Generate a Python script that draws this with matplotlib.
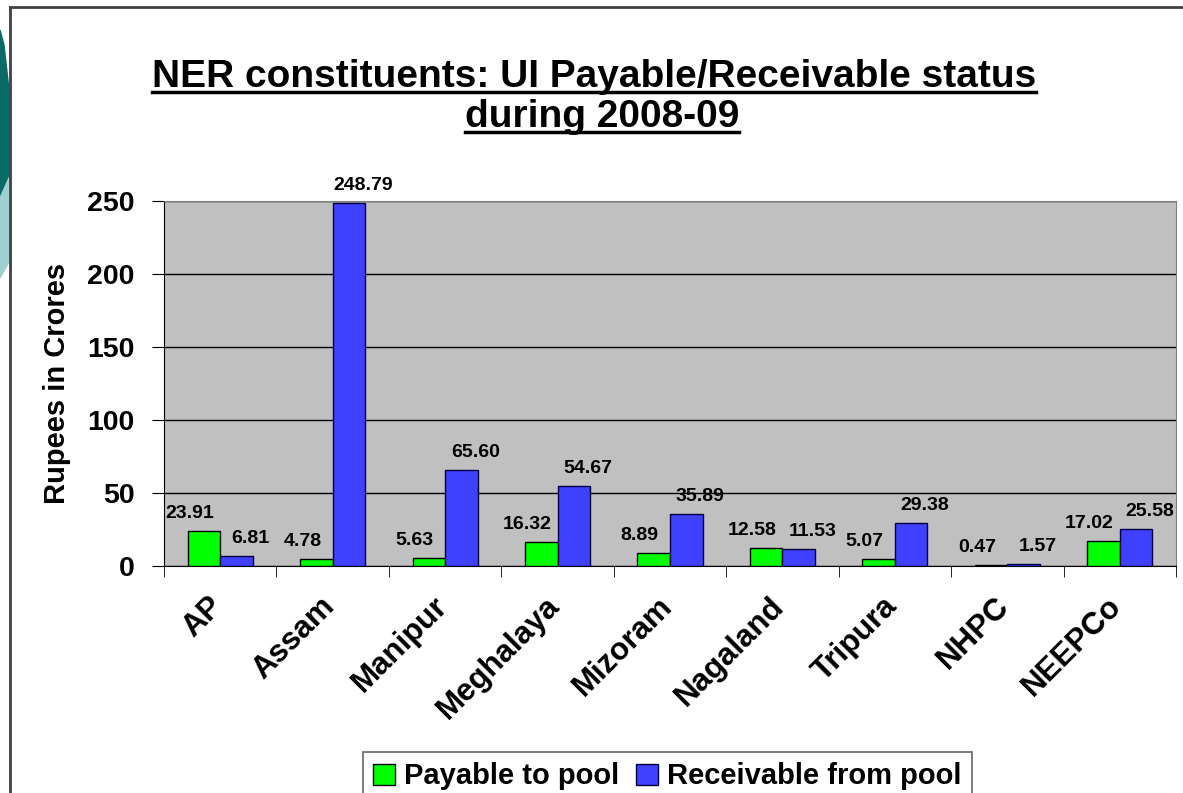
import numpy as np
import matplotlib
matplotlib.use("Agg")
import matplotlib.pyplot as plt
from matplotlib.lines import Line2D
from matplotlib.patches import Polygon
from matplotlib.transforms import ScaledTranslation

plt.rcParams['font.family'] = ['Liberation Sans', 'DejaVu Sans']
plt.rcParams['font.weight'] = 'bold'

# data
categories = ['AP', 'Assam', 'Manipur', 'Meghalaya', 'Mizoram',
              'Nagaland', 'Tripura', 'NHPC', 'NEEPCo']
payable = [23.91, 4.78, 5.63, 16.32, 8.89, 12.58, 5.07, 0.47, 17.02]
receivable = [6.81, 248.79, 65.60, 54.67, 35.89, 11.53, 29.38, 1.57, 25.58]
series_names = ['Payable to pool', 'Receivable from pool']
yticks = [0, 50, 100, 150, 200, 250]

W, H = 1183, 793
fig = plt.figure(figsize=(W / 100, H / 100), dpi=100)
fig.patch.set_facecolor('white')

# slide decoration on the left edge
dark = Polygon([(0, 1 - 30 / H), (4 / W, 1 - 45 / H), (9 / W, 1 - 90 / H),
                (9 / W, 1 - 175 / H), (0, 1 - 198 / H)],
               closed=True, transform=fig.transFigure, color='#0b6a66', zorder=0)
light = Polygon([(0, 1 - 198 / H), (9 / W, 1 - 178 / H), (9 / W, 1 - 262 / H),
                 (0, 1 - 278 / H)],
                closed=True, transform=fig.transFigure, color='#9fd0cf', zorder=0)
fig.patches.extend([dark, light])

# slide frame
fig.add_artist(Line2D([10 / W, 10 / W], [0, 1 - 7 / H], transform=fig.transFigure,
                      color='#404040', lw=2))
fig.add_artist(Line2D([10 / W, 1], [1 - 7 / H, 1 - 7 / H], transform=fig.transFigure,
                      color='#404040', lw=2))

ax = fig.add_axes([164 / W, 1 - 566 / H, (1176 - 164) / W, (566 - 201) / H])
ax.set_facecolor('#c0c0c0')

x = np.arange(len(categories))
w = 0.29
b1 = ax.bar(x - w / 2, payable, w, color='#00ff00', edgecolor='black', lw=1,
            label=series_names[0], zorder=3)
b2 = ax.bar(x + w / 2, receivable, w, color='#4040ff', edgecolor='#000040', lw=1,
            label=series_names[1], zorder=3)

for xi, v in zip(x, payable):
    ax.annotate(f'{v:.2f}', (xi - w / 2, v), xytext=(-14, 9),
                textcoords='offset pixels', ha='center', va='bottom',
                fontsize=14, fontweight='bold', zorder=4)
for xi, v in zip(x, receivable):
    ax.annotate(f'{v:.2f}', (xi + w / 2, v), xytext=(14, 9),
                textcoords='offset pixels', ha='center', va='bottom',
                fontsize=14, fontweight='bold', zorder=4, annotation_clip=False)

ax.set_xlim(-0.5, len(categories) - 0.5)
ax.set_ylim(0, 250)
ax.set_yticks(yticks)
ax.set_yticklabels([str(t) for t in yticks], fontsize=20.5, fontweight='bold')
ax.yaxis.grid(True, color='black', lw=1)
ax.set_axisbelow(True)

ax.set_xticks(x)
ax.set_xticklabels(categories, rotation=45, ha='right', rotation_mode='anchor',
                   fontsize=22.5, fontweight='bold')
ax.set_xticks(np.arange(len(categories) + 1) - 0.5, minor=True)
ax.tick_params(axis='x', which='major', length=0, pad=18)
ax.tick_params(axis='x', which='minor', length=8, direction='out', color='black')
ax.tick_params(axis='y', length=9, direction='out', pad=12)
# nudge category labels a little to the left, as in the original
shift = ScaledTranslation(-0.13, 0, fig.dpi_scale_trans)
for lab in ax.get_xticklabels():
    lab.set_transform(lab.get_transform() + shift)

for s in ['top', 'right']:
    ax.spines[s].set_color('#808080')
for s in ['left', 'bottom']:
    ax.spines[s].set_color('black')

ax.set_ylabel('Rupees in Crores', fontsize=21, fontweight='bold', labelpad=12)

# title with underline
base1, base2 = 1 - 87 / H, 1 - 127 / H
t1 = fig.text(0.502, base1, 'NER constituents: UI Payable/Receivable status',
              ha='center', va='baseline', fontsize=28, fontweight='bold')
t2 = fig.text(0.509, base2, 'during 2008-09',
              ha='center', va='baseline', fontsize=28, fontweight='bold')

leg = fig.legend(handles=[b1, b2], loc='lower center', ncol=2,
                 bbox_to_anchor=(0.564, -0.028), frameon=True, fancybox=False,
                 handlelength=0.75, handleheight=0.75,
                 handletextpad=0.3, columnspacing=0.6, borderpad=0.35,
                 prop={'weight': 'bold', 'size': 21})
leg.get_frame().set_edgecolor('#404040')
leg.get_frame().set_linewidth(1.2)

fig.canvas.draw()
r = fig.canvas.get_renderer()
for t, base in ((t1, base1), (t2, base2)):
    bb = t.get_window_extent(r).transformed(fig.transFigure.inverted())
    yline = base - 5 / H
    fig.add_artist(Line2D([bb.x0, bb.x1], [yline, yline],
                          transform=fig.transFigure, color='black', lw=2.5))

fig.savefig('out.png', dpi=100)
